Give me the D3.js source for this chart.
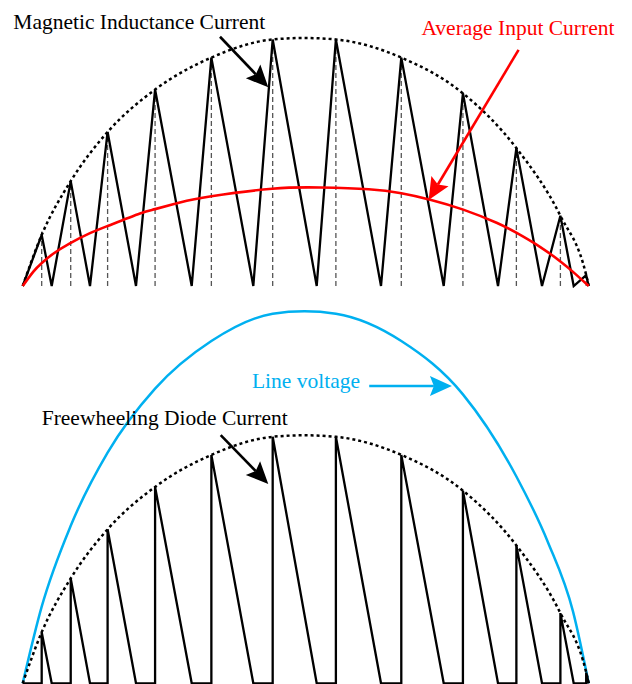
<!DOCTYPE html>
<html><head><meta charset="utf-8">
<script src="https://cdn.jsdelivr.net/npm/d3@7"></script>
<style>html,body{margin:0;padding:0;background:#fff}svg{display:block}</style>
</head><body><svg id="c" width="632" height="684"></svg>
<script>
// ---- data (x in electrical degrees of the half line cycle, y relative to peak inductor current) ----
const peakDeg   = [6.04, 15.27, 27.0, 42.1, 60.0, 79.5, 99.6, 120.4, 140.0, 157.0, 171.0, 179.2];
const peakVal   = [0.206, 0.423, 0.621, 0.792, 0.921, 0.994, 0.994, 0.921, 0.777, 0.556, 0.283, 0.044];
const troughDeg = [9.22, 21.4, 36.03, 53.75, 73.34, 93.5, 113.95, 133.89, 151.16, 165.15, 175.23];
const endDeg = 180;
const envelopeDeg = [0, 6.04, 15.27, 27.0, 42.1, 60.0, 79.5, 89.6, 99.6, 120.4, 140.0, 157.0, 171.0, 179.2, 180];
const envelopeVal = [0, 0.206, 0.423, 0.621, 0.792, 0.921, 0.994, 1.0, 0.994, 0.921, 0.777, 0.556, 0.283, 0.044, 0];
const avgDeg = [0, 3.4, 6.0, 9.7, 15.0, 21.4, 27.2, 37.3, 42.1, 50, 60, 79.3, 94.6, 110, 120.4, 129.6, 140.1, 150.7, 157.1, 164.5, 170.9, 175.1, 180];
const avgVal = [0, 0.058, 0.092, 0.130, 0.172, 0.213, 0.243, 0.292, 0.310, 0.337, 0.362, 0.392, 0.397, 0.390, 0.374, 0.348, 0.308, 0.255, 0.214, 0.158, 0.100, 0.056, 0];
const voltDeg = [0, 6.04, 15.27, 27.0, 42.1, 60.0, 79.5, 89.6, 99.6, 120.4, 140.0, 157.0, 167.0, 175.0, 180];
const voltVal = [0, 0.309, 0.635, 0.93, 1.188, 1.38, 1.49, 1.5, 1.49, 1.38, 1.165, 0.834, 0.57, 0.29, 0];
const labelTexts = ["Magnetic Inductance Current", "Average Input Current", "Freewheeling Diode Current", "Line voltage"];

// ---- layout ----
const svg = d3.select("#c");
const x = d3.scaleLinear().domain([0, 180]).range([22.7, 588.7]);
const yTop = d3.scaleLinear().domain([0, 1]).range([286, 38]);
const yBot = d3.scaleLinear().domain([0, 1]).range([683.3, 435.3]);

const zip = (a, b) => a.map((d, i) => [d, b[i]]);
const envelope = zip(envelopeDeg, envelopeVal);
const avg = zip(avgDeg, avgVal);
const volt = zip(voltDeg, voltVal);

// inductor current triangle wave
const tri = [[0, 0]];
peakDeg.forEach((d, i) => { tri.push([d, peakVal[i]]); tri.push([i < troughDeg.length ? troughDeg[i] : endDeg, 0]); });
// diode current sawtooth
const saw = [[0, 0]];
peakDeg.forEach((d, i) => { saw.push([d, 0]); saw.push([d, peakVal[i]]); saw.push([i < troughDeg.length ? troughDeg[i] : endDeg, 0]); });

function lineGen(y, curve) {
  const g = d3.line().x(d => x(d[0])).y(d => y(d[1]));
  if (curve) g.curve(curve);
  return g;
}

// ---- top panel ----
const gTop = svg.append("g");
gTop.selectAll("line.v").data(peakDeg.map((d, i) => [d, peakVal[i]])).join("line")
  .attr("x1", d => x(d[0])).attr("x2", d => x(d[0]))
  .attr("y1", yTop(0)).attr("y2", d => yTop(d[1]))
  .attr("stroke", "#555").attr("stroke-width", 1.3).attr("stroke-dasharray", "5,3");
gTop.append("path").attr("d", lineGen(yTop, d3.curveMonotoneX)(envelope))
  .attr("fill", "none").attr("stroke", "#000").attr("stroke-width", 2.5).attr("stroke-dasharray", "3,3");
gTop.append("path").attr("d", lineGen(yTop)(tri))
  .attr("fill", "none").attr("stroke", "#000").attr("stroke-width", 2.3);
gTop.append("path").attr("d", lineGen(yTop, d3.curveNatural)(avg))
  .attr("fill", "none").attr("stroke", "#ff0000").attr("stroke-width", 2.6);

// ---- bottom panel ----
const gBot = svg.append("g");
gBot.append("path").attr("d", lineGen(yBot, d3.curveMonotoneX)(volt))
  .attr("fill", "none").attr("stroke", "#00b0f0").attr("stroke-width", 2.5);
gBot.append("path").attr("d", lineGen(yBot, d3.curveMonotoneX)(envelope))
  .attr("fill", "none").attr("stroke", "#000").attr("stroke-width", 2.5).attr("stroke-dasharray", "3,3");
gBot.append("path").attr("d", lineGen(yBot)(saw))
  .attr("fill", "none").attr("stroke", "#000").attr("stroke-width", 2.3);

// ---- annotations ----
const annotations = [
  { text: labelTexts[0], y: yTop, color: "#000", tx: -2.99, ty: 1.035, from: [62.75, 1.005], to: [78.1, 0.801] },
  { text: labelTexts[1], y: yTop, color: "#ff0000", tx: 126.8, ty: 1.012, from: [157.7, 0.952], to: [129.1, 0.347] },
  { text: labelTexts[2], y: yBot, color: "#000", tx: 6.04, ty: 1.0415, from: [62.97, 1.001], to: [78.1, 0.804] },
  { text: labelTexts[3], y: yBot, color: "#00b0f0", tx: 72.9, ty: 1.192, from: [110.2, 1.199], to: [136.5, 1.199] }
];
const L = 22, HW = 10;
annotations.forEach(a => {
  svg.append("text").attr("x", x(a.tx)).attr("y", a.y(a.ty))
    .attr("font-family", "'Liberation Serif','Times New Roman',serif").attr("font-size", 21.5)
    .attr("fill", a.color).text(a.text);
  const x0 = x(a.from[0]), y0 = a.y(a.from[1]), x1 = x(a.to[0]), y1 = a.y(a.to[1]);
  const dx = x1 - x0, dy = y1 - y0, len = Math.hypot(dx, dy);
  const ux = dx / len, uy = dy / len, px = -uy, py = ux;
  const bx = x1 - ux * L, by = y1 - uy * L;
  const nx = x1 - ux * L * 0.82, ny = y1 - uy * L * 0.82;
  svg.append("line").attr("x1", x0).attr("y1", y0).attr("x2", nx).attr("y2", ny)
    .attr("stroke", a.color).attr("stroke-width", 2.6);
  svg.append("path")
    .attr("d", `M${x1},${y1}L${bx + px * HW},${by + py * HW}L${nx},${ny}L${bx - px * HW},${by - py * HW}Z`)
    .attr("fill", a.color);
});
</script>
</body></html>
